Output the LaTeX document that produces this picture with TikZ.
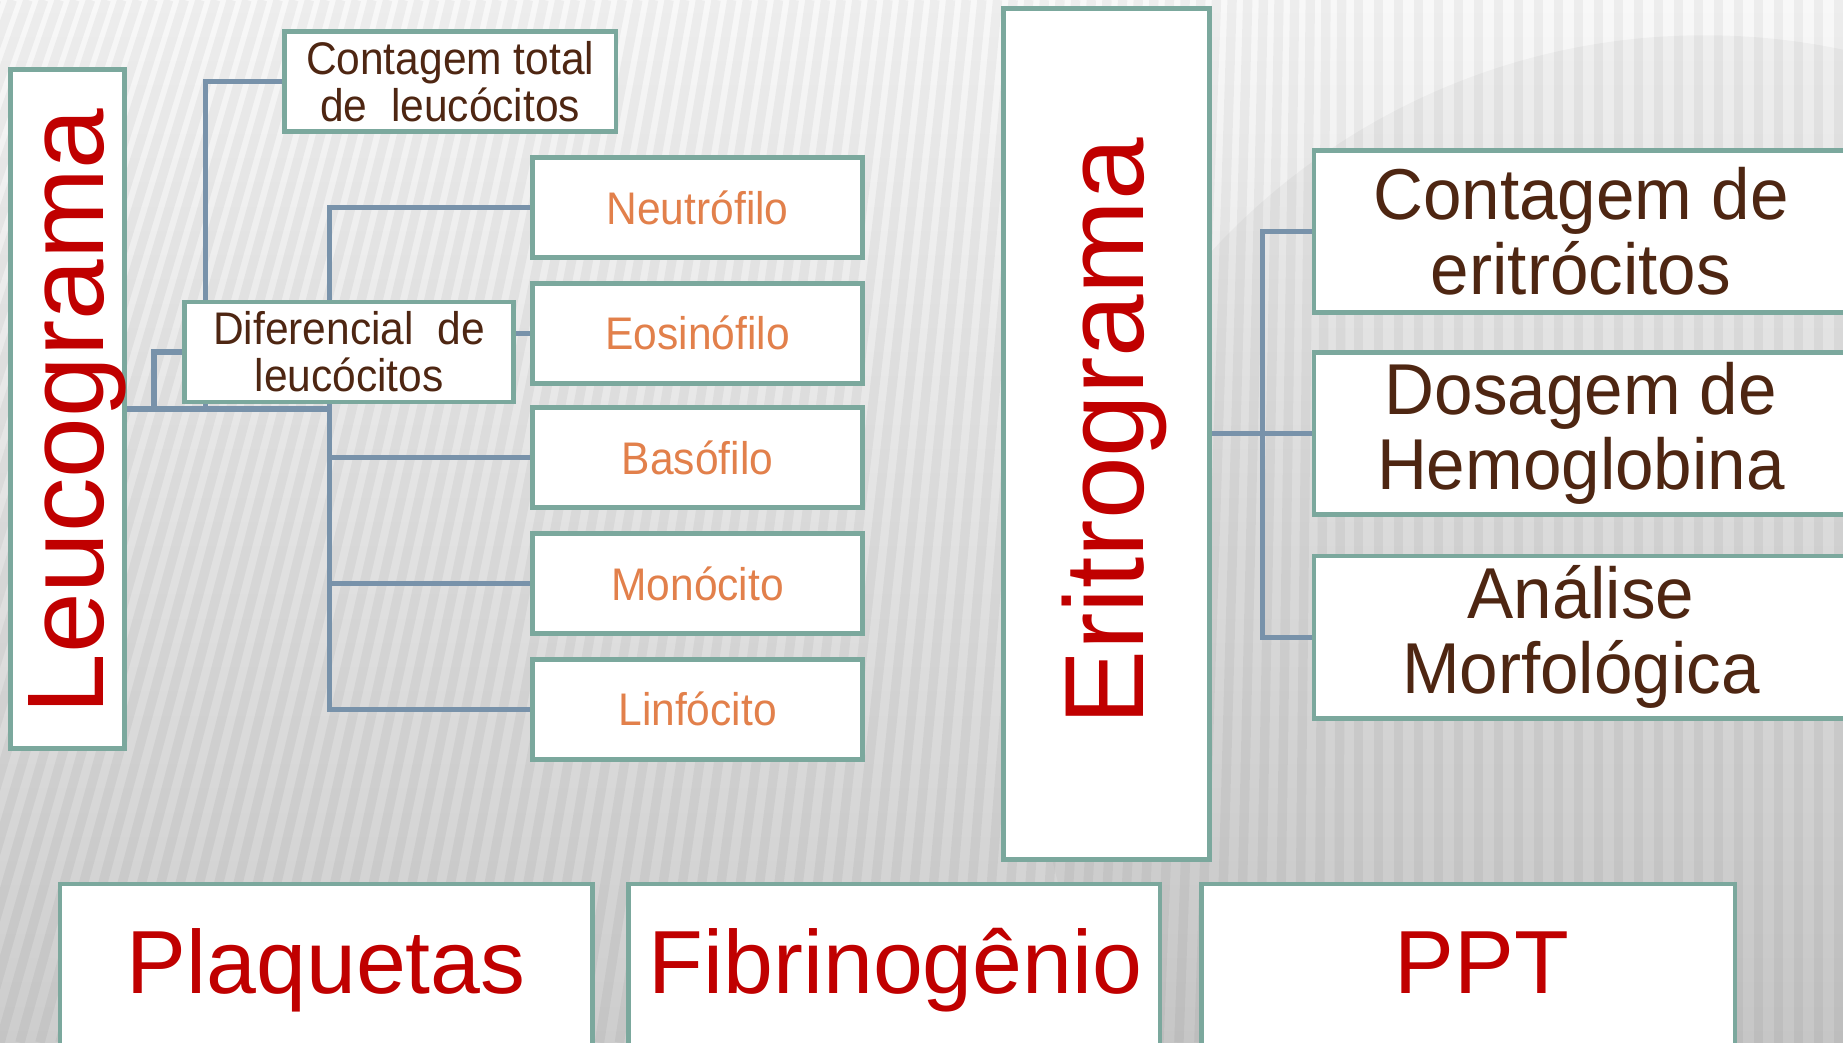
\documentclass[tikz,border=0pt]{standalone}
\usepackage{fontspec}
\setmainfont{Liberation Sans}
\newfontfamily\smallf[FakeStretch=0.93]{Liberation Sans}
\newfontfamily\bigf[FakeStretch=0.96]{Liberation Sans}
\newfontfamily\rotf[FakeStretch=1.0]{Liberation Sans}
\definecolor{redt}{HTML}{C00000}
\definecolor{brownt}{HTML}{4E2612}
\definecolor{orangt}{HTML}{E2804B}
\definecolor{bordc}{HTML}{7BA89D}
\definecolor{connc}{HTML}{7892AA}
\definecolor{bgtop}{HTML}{F8F8F8}
\definecolor{bgbot}{HTML}{CDCDCD}
\pgfdeclarelayer{back}
\pgfdeclarelayer{lines}
\pgfsetlayers{back,lines,main}
\def\u{0.011754cm}
\tikzset{
  box/.style={draw=bordc, line width=1.35pt, fill=white, inner sep=0pt, align=center},
  conn/.style={draw=connc, line width=1.45pt},
  smalltxt/.style={font=\smallf\fontsize{13}{13.4}\selectfont},
  bigtxt/.style={font=\bigf\fontsize{20.5}{21.3}\selectfont, text=brownt},
  rottxt/.style={font=\rotf\fontsize{31}{31}\selectfont, text=redt, rotate=90, anchor=base, inner sep=0pt},
  bottxt/.style={font=\fontsize{25.5}{25.5}\selectfont, text=redt, anchor=base, inner sep=0pt},
  kid/.style={box, smalltxt, text=orangt, minimum width=281*\u, minimum height=85*\u},
  rbox/.style={box, bigtxt, minimum width=454*\u, minimum height=138*\u},
  bbox/.style={box, minimum height=140*\u}
}
\begin{document}
\begin{tikzpicture}[x=\u, y=-\u]
\useasboundingbox (0,0) rectangle (1568,887);
% background
\begin{pgfonlayer}{back}
  \shade[top color=bgtop, bottom color=bgbot] (0,0) rectangle (1568,887);
  \begin{scope}
    \clip (0,0) rectangle (1568,887);
    \fill[black, opacity=0.03] (1450,600) circle (570);
    \foreach \i in {-20,...,95}{
      \pgfmathsetmacro\xa{\i*17}
      \pgfmathsetmacro\sl{max(0,250*(1-\xa/1150))}
      \draw[black, opacity=0.045, line width=8*\u] (\xa,887) -- (\xa+\sl,0);
    }
  \end{scope}
\end{pgfonlayer}

% left tree
\node[box, minimum width=97*\u, minimum height=578*\u] (leu) at (57.5,348) {};
\node[rottxt] (leut) at (88,350) {Leucograma};
\node[box, smalltxt, text=brownt, minimum width=282*\u, minimum height=85*\u] (ctl) at (383,69.5) {Contagem total\\de\ \ leucócitos};
\node[box, smalltxt, text=brownt, minimum width=280*\u, minimum height=85*\u] (dif) at (297,299.5) {Diferencial\ \ de\\leucócitos};
\node[kid] (neu) at (593.5,176.5) {Neutrófilo};
\node[kid] (eos) at (593.5,283.5) {Eosinófilo};
\node[kid] (bas) at (593.5,389.5) {Basófilo};
\node[kid] (mon) at (593.5,496.5) {Monócito};
\node[kid] (lin) at (593.5,603.5) {Linfócito};

\coordinate (jL) at (280,348);
\coordinate (jA) at (175,348);
\coordinate (jB) at (131,348);

% right tree
\node[box, minimum width=175*\u, minimum height=724*\u] (eri) at (941.5,369) {};
\node[rottxt, font=\rotf\fontsize{32}{32}\selectfont] (erit) at (973,367.5) {Eritrograma};
\node[rbox] (cde) at (1345,197) {Contagem de\\eritrócitos};
\node[rbox] (dos) at (1345,369) {Dosagem de\\Hemoglobina};
\node[rbox] (ana) at (1345,542) {Análise\\Morfológica};
\coordinate (jE) at (1074,369);

% bottom
\node[bbox, minimum width=453*\u] (pla) at (277.5,822) {};
\node[bbox, minimum width=452*\u] (fib) at (761,822) {};
\node[bbox, minimum width=454*\u] (ppt) at (1249,822) {};
\node[bottxt] (plat) at (277.5,845) {Plaquetas};
\node[bottxt] (fibt) at (762,845) {Fibrinogênio};
\node[bottxt] (pptt) at (1261,845) {PPT};

% connectors
\begin{pgfonlayer}{lines}
  \draw[conn] (leu.east) -- (jL);
  \draw[conn] (jA) |- (ctl.west);
  \draw[conn] (jB) |- (dif.west);
  \draw[conn] (jL) |- (neu.west);
  \draw[conn] (jL) |- (bas.west);
  \draw[conn] (jL) |- (mon.west);
  \draw[conn] (jL) |- (lin.west);
  \draw[conn] (dif.east |- eos.west) -- (eos.west);
  \draw[conn] (eri.east) -- (dos.west);
  \draw[conn] (jE) |- (cde.west);
  \draw[conn] (jE) |- (ana.west);
\end{pgfonlayer}
\end{tikzpicture}
\end{document}
